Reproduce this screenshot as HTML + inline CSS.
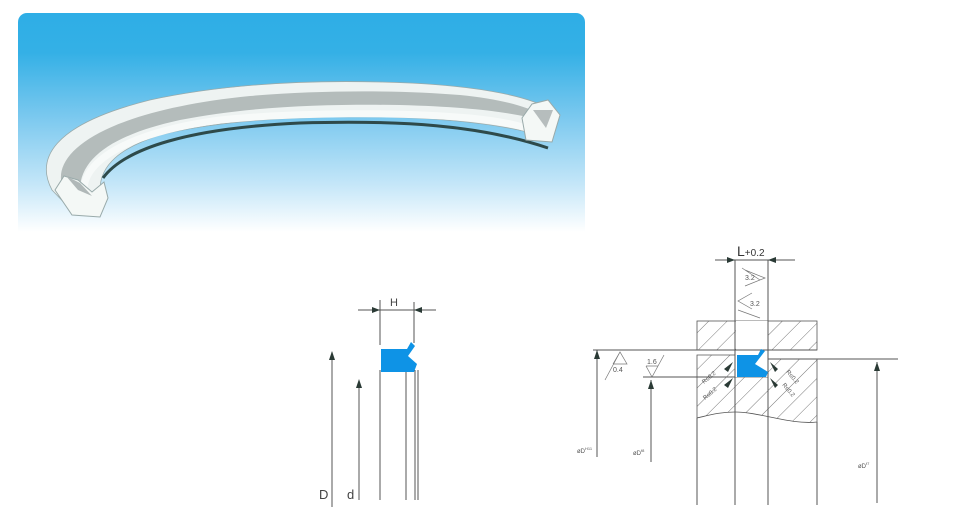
<!DOCTYPE html>
<html><head><meta charset="utf-8"><style>
html,body{margin:0;padding:0;background:#fff;width:980px;height:529px;overflow:hidden}
.photo{position:absolute;left:18px;top:13px;width:567px;height:219px;border-radius:9px 9px 0 0;background:linear-gradient(#2eaee6 0%,#34b0e6 18%,#7cc9ef 48%,#c4e6f8 78%,#fff 100%)}
svg{position:absolute;left:0;top:0}
text{font-family:"Liberation Sans",sans-serif}
</style></head><body>
<div class="photo"></div>
<svg width="980" height="529" viewBox="0 0 980 529">
<defs>
<pattern id="h" patternUnits="userSpaceOnUse" width="13" height="13" patternTransform="rotate(45)">
<line x1="0" y1="0" x2="0" y2="13" stroke="#555" stroke-width="0.8"/>
</pattern>
</defs>
<!-- ring -->
<path d="M75,214 L52,190 C36,160 50,125 150,100 C220,85 300,80 380,82 C470,84 530,95 555,112 L552,140 C520,126 450,118 380,117 C300,116 220,120 160,135 C120,148 100,165 100,190 Z" fill="#eef3f2" stroke="#9aa" stroke-width="0.8"/>
<path d="M62,185 C52,150 110,110 250,96 C320,90 400,90 460,95 C500,99 525,106 540,114 L540,120 C510,112 470,107 400,105 C330,104 250,106 180,120 C120,133 80,155 80,190 Z" fill="#b4bcbb"/>
<path d="M84,190 C84,160 130,132 220,120 C300,112 400,112 470,118 C510,122 530,128 548,136" fill="none" stroke="#f7faf9" stroke-width="7"/>
<path d="M103,178 C125,148 190,128 300,123 C400,120 480,125 548,148" fill="none" stroke="#2e4a4a" stroke-width="3"/>
<path d="M55,190 L72,215 L100,217 L108,198 L104,182 L92,192 L78,180 L64,176 Z" fill="#f4f8f6" stroke="#9aa" stroke-width="1"/>
<path d="M66,176 L80,183 L92,196 L78,190z" fill="#b0b8b8"/>
<path d="M522,118 L532,104 L548,100 L560,115 L552,142 L526,140 Z" fill="#f4f8f6" stroke="#9aa" stroke-width="1"/>
<path d="M533,110 L546,128 L553,110 Z" fill="#b6bdbd"/>
<!-- left drawing -->
<g stroke="#555" stroke-width="1" fill="none">
<line x1="358" y1="310" x2="436" y2="310"/>
<line x1="380" y1="300" x2="380" y2="345"/>
<line x1="414" y1="302" x2="414" y2="343"/>
<line x1="332" y1="352" x2="332" y2="507"/>
<line x1="359" y1="382" x2="359" y2="500"/>
<line x1="380" y1="370" x2="380" y2="500"/>
<line x1="406" y1="370" x2="406" y2="500"/>
<line x1="415" y1="370" x2="415" y2="500"/>
<line x1="418" y1="370" x2="418" y2="500"/>
</g>
<path d="M372,307 L380,310 L372,313z M422,307 L414,310 L422,313z" fill="#2a3a35"/>
<path d="M329,360 L332,351 L335,360z M356,388 L359,379 L362,388z" fill="#2a3a35"/>
<path d="M381,349 L407,349 L411,342 L415,346 L408,356 L417,364 L414,372 L381,372 Z" fill="#0e93e6"/>
<text x="390" y="306" font-size="11" fill="#444">H</text>
<text x="319" y="499" font-size="13" fill="#444">D</text>
<text x="347" y="499" font-size="13" fill="#444">d</text>
<!-- right drawing -->
<rect x="697" y="321" width="120" height="29" fill="url(#h)" stroke="#555" stroke-width="0.8"/>
<path d="M697,355 L735,355 L735,377 L768,377 L768,359 L817,359 L817,422 C790,425 760,412 735,412 C720,412 710,415 697,418 Z" fill="url(#h)" stroke="#555" stroke-width="0.8"/>
<rect x="735" y="350" width="33" height="27" fill="#fff"/>
<rect x="736" y="321" width="32" height="29" fill="#fff"/>
<g stroke="#555" stroke-width="1" fill="none">
<line x1="715" y1="260" x2="795" y2="260"/>
<line x1="735" y1="260" x2="735" y2="505"/>
<line x1="768" y1="260" x2="768" y2="505"/>
<line x1="697" y1="418" x2="697" y2="505"/>
<line x1="817" y1="422" x2="817" y2="505"/>
<line x1="593" y1="350" x2="817" y2="350"/>
<line x1="768" y1="359" x2="898" y2="359"/>
<line x1="643" y1="377" x2="735" y2="377"/>
<line x1="597" y1="350" x2="597" y2="457"/>
<line x1="651" y1="380" x2="651" y2="462"/>
<line x1="877" y1="362" x2="877" y2="503"/>
</g>
<path d="M727,257 L735,260 L727,263z M776,257 L768,260 L776,263z" fill="#2a3a35"/>
<path d="M594,359 L597,350 L600,359z M648,389 L651,380 L654,389z M874,371 L877,362 L880,371z" fill="#2a3a35"/>
<path d="M737,355 L758,355 L761,349 L765,351 L755,364 L768,372 L766,377 L737,377 Z" fill="#0e93e6"/>
<path d="M724,369 L733,362 L728,372z M724,385 L733,378 L728,388z M778,369 L770,362 L775,372z M778,385 L770,378 L775,388z" fill="#2a3a35"/>
<g stroke="#777" stroke-width="0.7" fill="none">
<path d="M745,270 L765,278 L745,286 M742,268 L760,280"/>
<path d="M752,293 L738,301 L752,309 M738,310 L760,318"/>
<path d="M613,364 L620,352 L627,364 L613,364 M620,352 L605,380"/>
<path d="M646,366 L652,377 L658,366 L646,366 M664,355 L652,377"/>
</g>
<text x="737" y="256" font-size="14" fill="#333">L<tspan font-size="10">+0.2</tspan></text>
<text x="745" y="280" font-size="7" fill="#555">3.2</text>
<text x="750" y="306" font-size="7" fill="#555">3.2</text>
<text x="613" y="372" font-size="7" fill="#555">0.4</text>
<text x="647" y="364" font-size="7" fill="#555">1.6</text>
<text x="704" y="384" font-size="6" fill="#555" transform="rotate(-40 704 384)">R≤0.2</text>
<text x="705" y="400" font-size="6" fill="#555" transform="rotate(-40 705 400)">R≤0.2</text>
<text x="786" y="372" font-size="6" fill="#555" transform="rotate(50 786 372)">R≤0.2</text>
<text x="782" y="385" font-size="6" fill="#555" transform="rotate(50 782 385)">R≤0.2</text>
<text x="577" y="453" font-size="6" fill="#555">øD<tspan font-size="4" dy="-3">H11</tspan></text>
<text x="633" y="455" font-size="6" fill="#555">øD<tspan font-size="4" dy="-3">f8</tspan></text>
<text x="858" y="468" font-size="6" fill="#555">øD<tspan font-size="4" dy="-3">f7</tspan></text>
</svg>
</body></html>
